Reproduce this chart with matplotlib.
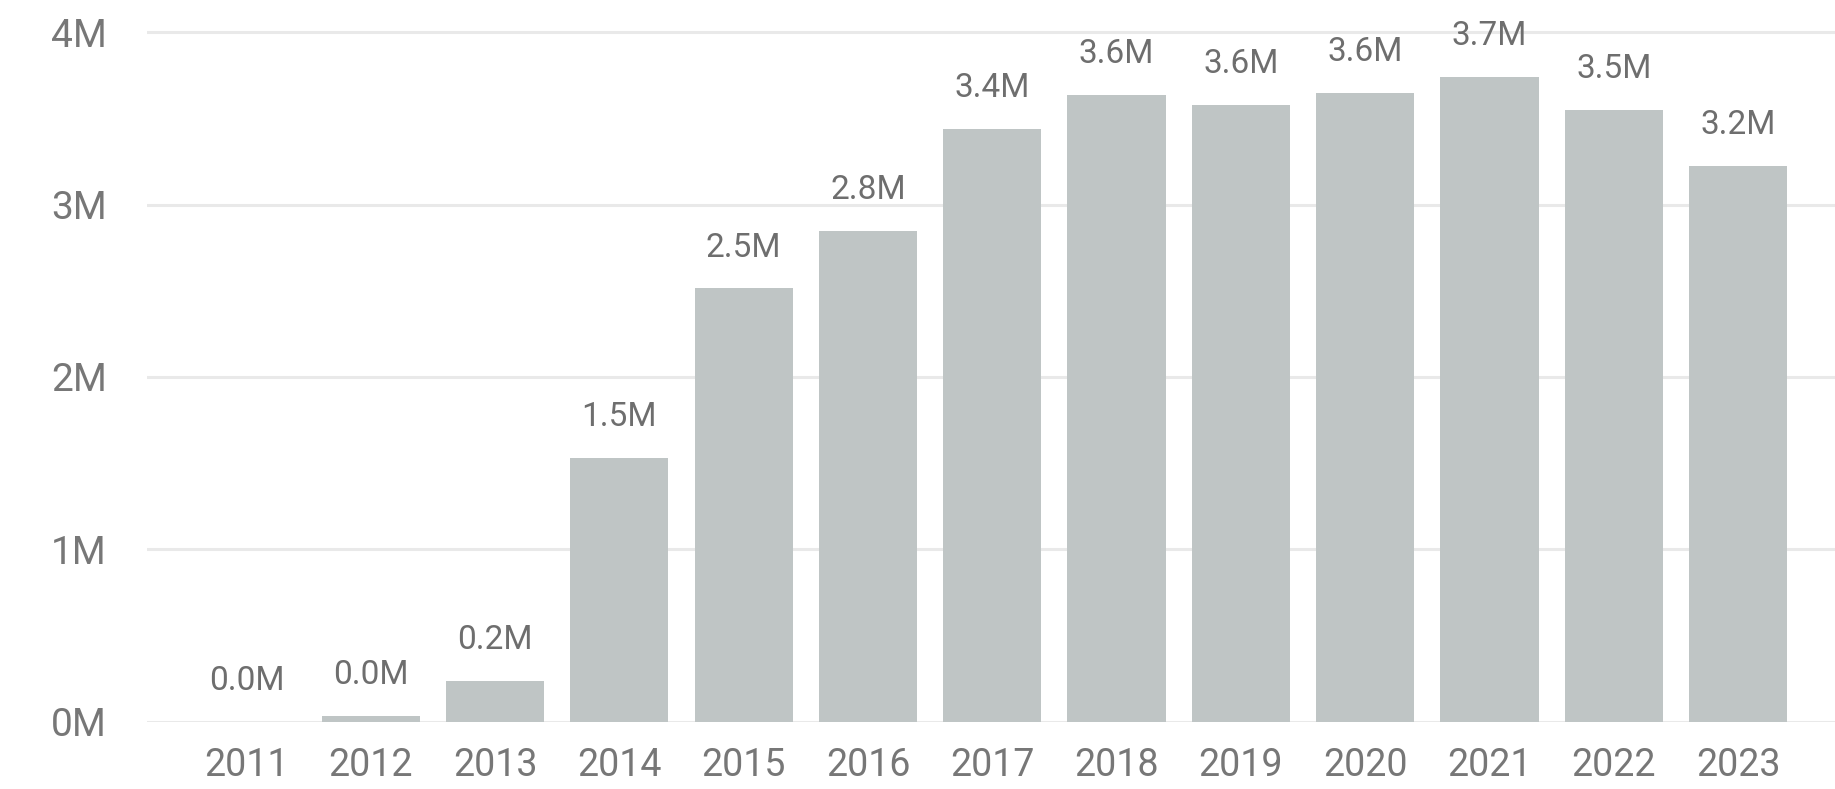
#!/usr/bin/env python3
# -*- coding: utf-8 -*-

import matplotlib
matplotlib.use('Agg')
import matplotlib.pyplot as plt
from matplotlib.ticker import FuncFormatter


years  = ['2011', '2012', '2013', '2014', '2015', '2016', '2017',
          '2018', '2019', '2020', '2021', '2022', '2023']
values = [0.0, 0.033, 0.236, 1.528, 2.513, 2.845, 3.436,
          3.633, 3.579, 3.647, 3.74, 3.548, 3.225]   # millions
y_ticks = [0, 1, 2, 3, 4]

BAR_COLOR  = '#BFC5C5'
TEXT_COLOR = '#777777'
LABEL_COLOR = '#6E6E6E'
GRID_COLOR = '#E9E9E9'


def main():
    plt.rcParams['font.family'] = ['Roboto', 'DejaVu Sans']

    fig = plt.figure(figsize=(18.35, 7.89), dpi=100)
    ax = fig.add_axes([147 / 1835, 67.3 / 789, 1 - 147 / 1835, 706.8 / 789])

    xs = range(len(years))
    bars = ax.bar(xs, values, width=0.79, color=BAR_COLOR, zorder=2)

    for rect, v in zip(bars, values):
        ax.annotate(f'{v:.1f}M',
                    xy=(rect.get_x() + rect.get_width() / 2, v),
                    xytext=(0, 23), textcoords='offset points',
                    ha='center', va='baseline', fontsize=24,
                    color=LABEL_COLOR, annotation_clip=False)

    ax.set_xlim(-0.8, len(years) - 1 + 0.78)
    ax.set_ylim(0, 4.1)
    ax.set_xticks(list(xs))
    ax.set_xticklabels(years)
    ax.set_yticks(y_ticks)
    ax.yaxis.set_major_formatter(FuncFormatter(lambda v, _: f'{v:.0f}M'))

    ax.tick_params(axis='x', length=0, pad=18, labelsize=27,
                   labelcolor=TEXT_COLOR)
    ax.tick_params(axis='y', length=0, pad=29, labelsize=28,
                   labelcolor=TEXT_COLOR)

    ax.grid(axis='y', color=GRID_COLOR, linewidth=2.2, zorder=0)
    for side in ax.spines.values():
        side.set_visible(False)

    fig.savefig('out.png', dpi=100, facecolor='white')


if __name__ == '__main__':
    main()
